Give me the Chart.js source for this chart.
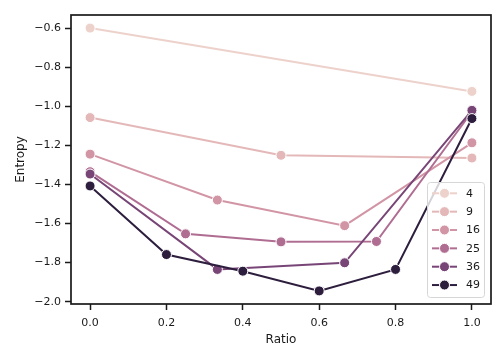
<!DOCTYPE html>
<html lang="en">
<head>
    <meta charset="UTF-8">
    <title>Entropy vs Ratio</title>
    <script src="https://cdn.jsdelivr.net/npm/chart.js"></script>
    <style>
        body { margin: 0; background: #ffffff; }
        #wrap { width: 504px; height: 360px; }
    </style>
</head>
<body>
    <div id="wrap"><canvas id="chart" width="504" height="360"></canvas></div>

    <script>
        // data
        const seriesNames = ['4', '9', '16', '25', '36', '49'];
        const ratios4 = [0, 1];
        const entropy4 = [-0.600, -0.924];
        const ratios9 = [0, 0.5, 1];
        const entropy9 = [-1.058, -1.251, -1.265];
        const ratios16 = [0, 1 / 3, 2 / 3, 1];
        const entropy16 = [-1.245, -1.480, -1.611, -1.187];
        const ratios25 = [0, 0.25, 0.5, 0.75, 1];
        const entropy25 = [-1.335, -1.653, -1.694, -1.692, -1.028];
        const ratios36 = [0, 1 / 3, 2 / 3, 1];
        const entropy36 = [-1.347, -1.835, -1.801, -1.021];
        const ratios49 = [0, 0.2, 0.4, 0.6, 0.8, 1];
        const entropy49 = [-1.408, -1.759, -1.844, -1.945, -1.835, -1.063];

        const xTicks = [0, 0.2, 0.4, 0.6, 0.8, 1.0];
        const yTicks = [-2.0, -1.8, -1.6, -1.4, -1.2, -1.0, -0.8, -0.6];

        const allRatios = [ratios4, ratios9, ratios16, ratios25, ratios36, ratios49];
        const allEntropy = [entropy4, entropy9, entropy16, entropy25, entropy36, entropy49];

        const colors = ['#edd1cb', '#e4b8b8', '#d295a5', '#b06d92', '#784577', '#2d1e3e'];
        const ink = '#1a1a1a';
        const fontFamily = "'DejaVu Sans', sans-serif";

        const fmt = v => {
            const s = Math.abs(v).toFixed(1);
            return v < 0 ? '\u2212' + s : s;
        };

        const datasets = seriesNames.map((name, i) => ({
            label: name,
            data: allRatios[i].map((x, j) => ({ x: x, y: allEntropy[i][j] })),
            showLine: true,
            borderColor: colors[i],
            backgroundColor: colors[i],
            borderWidth: 2,
            pointRadius: 5,
            pointHoverRadius: 5,
            pointBorderColor: '#ffffff',
            pointBorderWidth: 1,
            pointBackgroundColor: colors[i],
            order: seriesNames.length - i
        }));

        // frame (all four spines)
        const framePlugin = {
            id: 'frame',
            afterDatasetsDraw(chart) {
                const { ctx, chartArea: a } = chart;
                ctx.save();
                ctx.strokeStyle = ink;
                ctx.lineWidth = 1.7;
                ctx.strokeRect(a.left, a.top, a.right - a.left, a.bottom - a.top);
                ctx.restore();
            }
        };

        // matplotlib-like legend inside the axes, lower right
        const legendPlugin = {
            id: 'mplLegend',
            afterDraw(chart) {
                const ctx = chart.ctx;
                const box = { x: 427.5, y: 182.5, w: 57, h: 115, r: 3 };
                ctx.save();
                ctx.beginPath();
                ctx.roundRect(box.x, box.y, box.w, box.h, box.r);
                ctx.fillStyle = 'rgba(255,255,255,0.8)';
                ctx.fill();
                ctx.strokeStyle = '#d6d6d6';
                ctx.lineWidth = 1;
                ctx.stroke();
                ctx.font = '11px ' + fontFamily;
                ctx.textBaseline = 'middle';
                ctx.textAlign = 'left';
                seriesNames.forEach((name, i) => {
                    const cy = 193.3 + i * 18.35;
                    ctx.strokeStyle = colors[i];
                    ctx.lineWidth = 2;
                    ctx.beginPath();
                    ctx.moveTo(432, cy);
                    ctx.lineTo(457, cy);
                    ctx.stroke();
                    ctx.beginPath();
                    ctx.arc(444.5, cy, 5, 0, Math.PI * 2);
                    ctx.fillStyle = colors[i];
                    ctx.fill();
                    ctx.strokeStyle = '#ffffff';
                    ctx.lineWidth = 1;
                    ctx.stroke();
                    ctx.fillStyle = ink;
                    ctx.fillText(name, 466, cy + 0.5);
                });
                ctx.restore();
            }
        };

        new Chart(document.getElementById('chart'), {
            type: 'scatter',
            data: { datasets: datasets },
            plugins: [framePlugin, legendPlugin],
            options: {
                responsive: false,
                animation: false,
                devicePixelRatio: 1,
                layout: { padding: { left: 0, top: 15, right: 13, bottom: 0 } },
                plugins: {
                    legend: { display: false },
                    tooltip: { enabled: false }
                },
                scales: {
                    x: {
                        type: 'linear',
                        min: -0.05,
                        max: 1.05,
                        afterBuildTicks: s => { s.ticks = xTicks.map(v => ({ value: v })); },
                        afterFit: s => { s.height = 56; },
                        grid: {
                            drawOnChartArea: false,
                            drawTicks: true,
                            tickLength: 6,
                            tickWidth: 1.5,
                            tickColor: ink
                        },
                        border: { display: false },
                        ticks: {
                            color: ink,
                            padding: 7,
                            maxRotation: 0,
                            font: { family: fontFamily, size: 11 },
                            callback: v => v.toFixed(1)
                        },
                        title: {
                            display: true,
                            text: 'Ratio',
                            color: ink,
                            font: { family: fontFamily, size: 12 },
                            padding: { top: 0, bottom: 13 }
                        }
                    },
                    y: {
                        type: 'linear',
                        min: -2.012,
                        max: -0.533,
                        afterBuildTicks: s => { s.ticks = yTicks.map(v => ({ value: v })); },
                        afterFit: s => { s.width = 71; },
                        grid: {
                            drawOnChartArea: false,
                            drawTicks: true,
                            tickLength: 6,
                            tickWidth: 1.5,
                            tickColor: ink
                        },
                        border: { display: false },
                        ticks: {
                            color: ink,
                            padding: 4,
                            font: { family: fontFamily, size: 11 },
                            callback: v => fmt(v)
                        },
                        title: {
                            display: true,
                            text: 'Entropy',
                            color: ink,
                            font: { family: fontFamily, size: 12 },
                            padding: { top: 13.5, bottom: 0 }
                        }
                    }
                }
            }
        });
    </script>
</body>
</html>
